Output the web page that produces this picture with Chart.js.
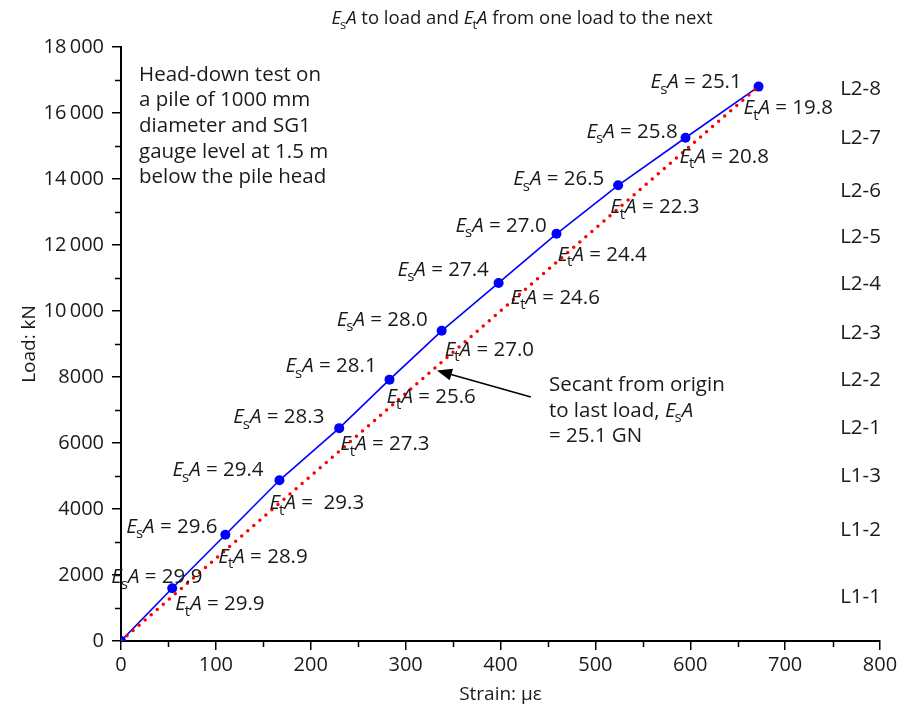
<!DOCTYPE html>
<html lang="en">
<head>
<meta charset="UTF-8">
<title>EsA to load and EtA from one load to the next</title>
<script src="https://cdn.jsdelivr.net/npm/chart.js@4.4.1/dist/chart.umd.min.js"></script>
<style>
  body { margin: 0; background: #fff; }
</style>
</head>
<body>
<canvas id="chart" width="907" height="710"></canvas>
<script>
// measured points: strain (microstrain) and load (kN)
const strain = [0, 54, 110, 167, 230, 283, 338, 398, 459, 524, 595, 672];
const load = [0, 1600, 3220, 4870, 6450, 7920, 9400, 10850, 12340, 13810, 15250, 16800];

// secant / tangent stiffness values (GN), one per load step
const esaValues = ['29.9', '29.6', '29.4', '28.3', '28.1', '28.0', '27.4', '27.0', '26.5', '25.8', '25.1'];
const etaValues = ['29.9', '28.9', ' 29.3', '27.3', '25.6', '27.0', '24.6', '24.4', '22.3', '20.8', '19.8'];

const stageNames = ['L1-1', 'L1-2', 'L1-3', 'L2-1', 'L2-2', 'L2-3', 'L2-4', 'L2-5', 'L2-6', 'L2-7', 'L2-8'];

const xTicks = [0, 100, 200, 300, 400, 500, 600, 700, 800];
const yTicks = [0, 2000, 4000, 6000, 8000, 10000, 12000, 14000, 16000, 18000];

// label placement (pixels from each point: left edge, vertical middle)
const esaOffsets = [[-61, -11], [-99, -8], [-107, -10], [-106, -11], [-104, -13], [-105, -11], [-101, -13], [-101, -8], [-105, -6], [-99, -6], [-108, -4]];
const etaOffsets = [[3, 16], [-7, 22], [-10, 23], [1, 16], [-3, 18], [3, 19], [12, 15], [1, 21], [-8, 22], [-6, 19], [-15, 22]];
const stageY = [1330, 3360, 5000, 6450, 7910, 9330, 10820, 12240, 13640, 15240, 16730];

const SANS = "'Open Sans', 'Noto Sans', sans-serif";
const LABEL_SIZE = 20.5;

function eq(sub, rest) {
  return [{ t: 'E', it: true }, { t: sub, sub: true }, { t: 'A', it: true }, { t: rest }];
}

function drawRich(ctx, parts, x, y, size, family, align) {
  const fontOf = p => (p.it ? 'italic ' : '') + (p.sub ? Math.round(size * 0.72) : size) + 'px ' + family;
  let total = 0;
  const widths = parts.map(p => {
    ctx.font = fontOf(p);
    const w = ctx.measureText(p.t).width;
    total += w;
    return w;
  });
  let cx = align === 'center' ? x - total / 2 : align === 'right' ? x - total : x;
  ctx.textAlign = 'left';
  ctx.textBaseline = 'middle';
  parts.forEach((p, i) => {
    ctx.font = fontOf(p);
    ctx.fillText(p.t, cx - (p.sub ? 1 : 0), p.sub ? y + size * 0.35 : y);
    cx += widths[i] - (p.sub ? 1 : 0);
  });
}

const annotations = {
  id: 'annotations',
  afterDraw(chart) {
    const { ctx, chartArea, scales: { x, y } } = chart;
    ctx.save();
    ctx.fillStyle = '#1a1a1a';
    ctx.strokeStyle = '#000';

    // minor ticks
    ctx.lineWidth = 1.5;
    ctx.beginPath();
    for (let v = 1000; v < 18000; v += 2000) {
      const py = Math.round(y.getPixelForValue(v)) + 0.5;
      ctx.moveTo(chartArea.left - 6, py);
      ctx.lineTo(chartArea.left, py);
    }
    for (let v = 50; v < 800; v += 100) {
      const px = Math.round(x.getPixelForValue(v)) + 0.5;
      ctx.moveTo(px, chartArea.bottom);
      ctx.lineTo(px, chartArea.bottom + 6);
    }
    ctx.stroke();

    // title
    drawRich(ctx, [...eq('s', ' to load and '), ...eq('t', ' from one load to the next')],
      523, 19, 18.5, SANS, 'center');

    // stiffness labels beside each point
    for (let i = 1; i < strain.length; i++) {
      const px = x.getPixelForValue(strain[i]);
      const py = y.getPixelForValue(load[i]);
      const so = esaOffsets[i - 1];
      const to = etaOffsets[i - 1];
      drawRich(ctx, eq('s', ' = ' + esaValues[i - 1]), px + so[0], py + so[1], LABEL_SIZE, SANS, 'left');
      drawRich(ctx, eq('t', ' = ' + etaValues[i - 1]), px + to[0], py + to[1], LABEL_SIZE, SANS, 'left');
    }

    // load stage names on the right
    ctx.font = LABEL_SIZE + 'px ' + SANS;
    ctx.textBaseline = 'middle';
    stageNames.forEach((s, i) => {
      ctx.fillText(s, x.getPixelForValue(758), y.getPixelForValue(stageY[i]));
    });

    // description block
    const note = ['Head-down test on', 'a pile of 1000 mm', 'diameter and SG1', 'gauge level at 1.5 m', 'below the pile head'];
    note.forEach((line, i) => {
      ctx.fillText(line, x.getPixelForValue(19), y.getPixelForValue(17150) + i * 25.6);
    });

    // secant note and arrow
    const nx = x.getPixelForValue(451);
    const ny = y.getPixelForValue(7760);
    ctx.fillText('Secant from origin', nx, ny);
    drawRich(ctx, [{ t: 'to last load, ' }, ...eq('s', '')], nx, ny + 26, LABEL_SIZE, SANS, 'left');
    ctx.font = LABEL_SIZE + 'px ' + SANS;
    ctx.fillText('= 25.1 GN', nx, ny + 51);

    const ax0 = x.getPixelForValue(432), ay0 = y.getPixelForValue(7394);
    const ax1 = x.getPixelForValue(333), ay1 = y.getPixelForValue(8200);
    const ang = Math.atan2(ay1 - ay0, ax1 - ax0);
    ctx.lineWidth = 1.5;
    ctx.beginPath();
    ctx.moveTo(ax0, ay0);
    ctx.lineTo(ax1 - 12 * Math.cos(ang), ay1 - 12 * Math.sin(ang));
    ctx.stroke();
    ctx.fillStyle = '#000';
    ctx.beginPath();
    ctx.moveTo(ax1, ay1);
    ctx.lineTo(ax1 - 15 * Math.cos(ang) + 6 * Math.sin(ang), ay1 - 15 * Math.sin(ang) - 6 * Math.cos(ang));
    ctx.lineTo(ax1 - 15 * Math.cos(ang) - 6 * Math.sin(ang), ay1 - 15 * Math.sin(ang) + 6 * Math.cos(ang));
    ctx.closePath();
    ctx.fill();

    ctx.restore();
  }
};

const last = strain.length - 1;

new Chart(document.getElementById('chart'), {
  type: 'scatter',
  data: {
    datasets: [
      {
        label: 'Load-strain',
        data: strain.map((s, i) => ({ x: s, y: load[i] })),
        showLine: true,
        borderColor: '#0000ff',
        borderWidth: 1.6,
        pointRadius: 5,
        pointBackgroundColor: '#0000ff',
        pointBorderWidth: 0,
        order: 2
      },
      {
        label: 'Secant',
        data: [{ x: strain[0], y: load[0] }, { x: strain[last], y: load[last] }],
        showLine: true,
        borderColor: '#ff0000',
        borderWidth: 3.5,
        borderDash: [0, 8],
        borderCapStyle: 'round',
        pointRadius: 0,
        order: 1
      }
    ]
  },
  options: {
    responsive: false,
    devicePixelRatio: 1,
    animation: false,
    layout: { padding: { top: 47, right: 27, left: 18, bottom: 4 } },
    plugins: {
      legend: { display: false },
      tooltip: { enabled: false }
    },
    scales: {
      x: {
        type: 'linear',
        min: 0,
        max: 800,
        afterBuildTicks: s => { s.ticks = xTicks.map(v => ({ value: v })); },
        afterFit: s => { s.height = 65; },
        border: { color: '#000', width: 2 },
        grid: { drawOnChartArea: false, color: '#000', lineWidth: 1.5, tickLength: 9 },
        ticks: { color: '#1a1a1a', font: { family: SANS, size: 20 }, padding: 3, maxRotation: 0 },
        title: { display: true, text: 'Strain: \u03bc\u03b5', color: '#1a1a1a', font: { family: SANS, size: 19 }, padding: { top: 0, bottom: 0 } }
      },
      y: {
        min: 0,
        max: 18000,
        afterBuildTicks: s => { s.ticks = yTicks.map(v => ({ value: v })); },
        afterFit: s => { s.width = 103; },
        border: { color: '#000', width: 2 },
        grid: { drawOnChartArea: false, color: '#000', lineWidth: 1.5, tickLength: 9 },
        ticks: {
          color: '#1a1a1a',
          font: { family: SANS, size: 20 },
          padding: 8,
          callback: v => v >= 10000 ? String(v).replace(/(\d+)(\d{3})$/, '$1\u2009$2') : String(v)
        },
        title: { display: true, text: 'Load: kN', color: '#1a1a1a', font: { family: SANS, size: 19 }, padding: { top: 0, bottom: 0 } }
      }
    }
  },
  plugins: [annotations]
});
</script>
</body>
</html>
